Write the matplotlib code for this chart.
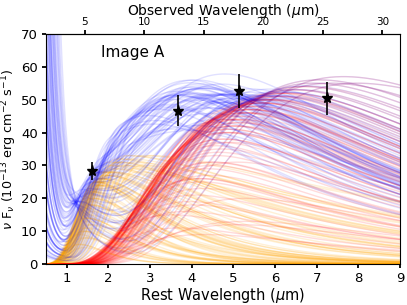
import numpy as np
import matplotlib
matplotlib.use("Agg")
import matplotlib.pyplot as plt

# photometry (rest wavelength in micron, nuFnu in 1e-13 erg/cm2/s)
obs_wave = [1.60, 3.66, 5.14, 7.25]
obs_flux = [28.3, 46.7, 52.6, 50.4]
obs_err = [2.6, 4.6, 5.2, 5.0]
redshift = 2.5

# posterior draws of the model components
# hot dust blackbody: temperature (K) and peak amplitude
dust_temp = [690, 720, 650, 800, 760, 610, 880, 700, 540, 740, 820, 670, 590, 930, 710,
             780, 640, 860, 500, 730, 680, 750, 620, 900, 770, 560, 690, 840, 710, 660,
             950, 600, 730, 790, 520, 700, 810, 640, 870, 680, 460, 760, 720, 580, 990,
             650, 740, 830, 610, 700, 480, 770, 690, 910, 630, 750, 570, 850, 720, 1040,
             660, 710, 580, 820, 740, 630, 690, 870, 550, 760, 700, 600, 780, 650, 720,
             530, 800, 670, 740, 610]
dust_amp = [47, 42, 50, 36, 44, 52, 26, 48, 54, 40, 31, 46, 51, 19, 43,
            37, 49, 23, 55, 45, 47, 41, 50, 21, 38, 53, 13, 29, 44, 48,
            16, 52, 42, 34, 56, 46, 31, 49, 25, 47, 55, 40, 43, 52, 11,
            49, 37, 27, 51, 45, 57, 38, 46, 18, 50, 41, 53, 9, 31, 15,
            48, 44, 52, 30, 42, 50, 20, 26, 54, 40, 46, 51, 35, 49, 12,
            55, 33, 47, 44, 50]
# stellar component: peak wavelength, peak amplitude, width of the red tail
star_peak = [1.6, 1.8, 1.5, 2.1, 1.7, 1.4, 2.4, 1.9, 1.6, 2.0, 2.6, 1.7, 1.5, 2.2, 1.8,
             1.9, 1.6, 2.8, 1.4, 1.7, 2.0, 1.6, 1.5, 2.3, 1.8, 1.3, 2.5, 2.0, 1.7, 1.6,
             2.2, 1.5, 1.9, 2.1, 1.4, 1.8, 2.7, 1.6, 2.0, 1.7, 1.3, 1.9, 1.8, 1.5, 2.4,
             1.6, 2.0, 2.2, 1.5, 1.7, 1.4, 1.9, 1.8, 2.5, 1.6, 2.0, 1.5, 3.0, 2.1, 2.3,
             1.7, 1.9, 1.5, 2.2, 1.6, 1.4, 2.6, 2.3, 1.5, 1.8, 1.7, 1.4, 2.0, 1.6, 2.8,
             1.3, 2.1, 1.8, 1.9, 1.5]
star_amp = [22, 26, 18, 28, 25, 14, 30, 24, 12, 27, 29, 25, 17, 32, 25,
            27, 16, 30, 10, 24, 26, 21, 15, 31, 28, 9, 33, 30, 24, 19,
            31, 11, 26, 29, 8, 24, 28, 20, 31, 25, 6, 27, 26, 13, 33,
            20, 28, 31, 14, 25, 5, 28, 24, 32, 18, 27, 10, 33, 30, 32,
            20, 25, 12, 29, 22, 10, 31, 30, 8, 26, 22, 11, 28, 18, 33,
            6, 28, 23, 25, 14]
star_tail = [0.6, 0.55, 0.7, 0.8, 0.5, 0.65, 0.95, 0.6, 0.5, 0.7, 0.85, 0.6, 0.5, 0.9, 0.6,
             0.7, 0.55, 0.95, 0.45, 0.65, 0.7, 0.5, 0.6, 0.9, 0.75, 0.45, 1.0, 0.8, 0.6, 0.5,
             0.9, 0.55, 0.7, 0.8, 0.45, 0.6, 0.95, 0.65, 0.85, 0.6, 0.4, 0.75, 0.65, 0.5, 1.05,
             0.6, 0.8, 0.85, 0.5, 0.65, 0.4, 0.75, 0.6, 0.95, 0.55, 0.7, 0.45, 1.05, 0.85, 0.9,
             0.55, 0.6, 0.5, 0.8, 0.5, 0.45, 1.0, 0.9, 0.4, 0.65, 0.55, 0.45, 0.75, 0.5, 1.1,
             0.4, 0.8, 0.6, 0.65, 0.5]
# blue power law (value at 1 micron, slope)
disk_amp = [8, 4, 14, 2, 10, 18, 1.5, 6, 22, 3, 1, 9, 12, 2.5, 7,
            5, 15, 2, 25, 8, 5, 11, 13, 2, 4, 20, 0.8, 3, 9, 12,
            3, 17, 6, 3.5, 28, 8, 2, 10, 3, 7, 30, 5, 8, 18, 1.5,
            10, 4, 2.5, 15, 6, 35, 5, 8, 1.5, 12, 5, 20, 1, 3, 2,
            9, 5, 16, 3, 11, 19, 2, 1.2, 24, 6, 10, 17, 4, 13, 1,
            26, 3, 8, 6, 15]
disk_slope = [2.6, 2.0, 3.0, 1.8, 2.8, 3.4, 1.6, 2.4, 3.6, 2.0, 1.5, 2.9, 3.2, 1.9, 2.5,
              2.2, 3.1, 1.7, 3.8, 2.6, 2.3, 3.0, 3.3, 1.8, 2.1, 3.5, 1.5, 1.9, 2.7, 3.0,
              2.0, 3.3, 2.4, 2.1, 4.0, 2.6, 1.8, 2.9, 1.9, 2.5, 4.2, 2.2, 2.6, 3.4, 1.7,
              2.8, 2.1, 1.9, 3.2, 2.4, 4.4, 2.3, 2.7, 1.6, 3.0, 2.2, 3.6, 1.6, 2.0, 1.8,
              2.7, 2.2, 3.1, 1.9, 2.8, 3.5, 1.7, 1.6, 3.7, 2.3, 2.6, 3.3, 2.0, 3.0, 1.5,
              3.9, 1.9, 2.5, 2.4, 3.1]

wave = np.linspace(0.5, 9.0, 400)


def blackbody(lam, T):
    # nu F_nu of a blackbody, normalised to 1 at its peak
    x = 14388.0 / (lam * T)
    xp = 3.9207
    lp = 14388.0 / (xp * T)
    return (lam / lp) ** -4 * np.expm1(xp) / np.expm1(x)


def stellar(lam, peak, tail):
    lr = np.log(lam / peak)
    sig = np.where(lr < 0, 0.3, tail)
    return np.exp(-0.5 * (lr / sig) ** 2)


fig = plt.figure(figsize=(4.07, 3.05), dpi=100)
ax = fig.add_axes([0.113, 0.134, 0.870, 0.755])

for i in range(len(dust_temp)):
    s = star_amp[i] * stellar(wave, star_peak[i], star_tail[i])
    d = dust_amp[i] * blackbody(wave, dust_temp[i])
    p = disk_amp[i] * wave ** -disk_slope[i]
    ax.plot(wave, s, color='orange', alpha=0.16, lw=1)
    ax.plot(wave, d, color='red', alpha=0.14, lw=1)
    ax.plot(wave, s + d + p, color='blue', alpha=0.12, lw=1)

ax.errorbar(obs_wave, obs_flux, yerr=obs_err, fmt='*', color='k', ms=8,
            elinewidth=1.2, capsize=0, zorder=10)

ax.set_xlim(0.5, 9)
ax.set_ylim(0, 70)
ax.set_xlabel(r'Rest Wavelength ($\mu$m)', fontsize=10.5)
ax.set_ylabel(r'$\nu$ F$_\nu$ (10$^{-13}$ erg cm$^{-2}$ s$^{-1}$)', fontsize=9.2)
ax.xaxis.set_label_coords(0.5, -0.095)
ax.yaxis.set_label_coords(-0.075, 0.5)
ax.tick_params(labelsize=9.5, width=1.3, length=3, pad=3)
ax.set_xticks(range(1, 10))
ax.text(0.155, 0.9, 'Image A', transform=ax.transAxes, fontsize=11)

top = ax.secondary_xaxis('top', functions=(lambda x: x * (1 + redshift),
                                            lambda x: x / (1 + redshift)))
top.set_xticks([5, 10, 15, 20, 25, 30])
top.tick_params(labelsize=7.5, width=1.3, length=3, pad=2)
top.set_xlabel(r'Observed Wavelength ($\mu$m)', fontsize=10, labelpad=1.5)

fig.savefig('out.png', dpi=100)
